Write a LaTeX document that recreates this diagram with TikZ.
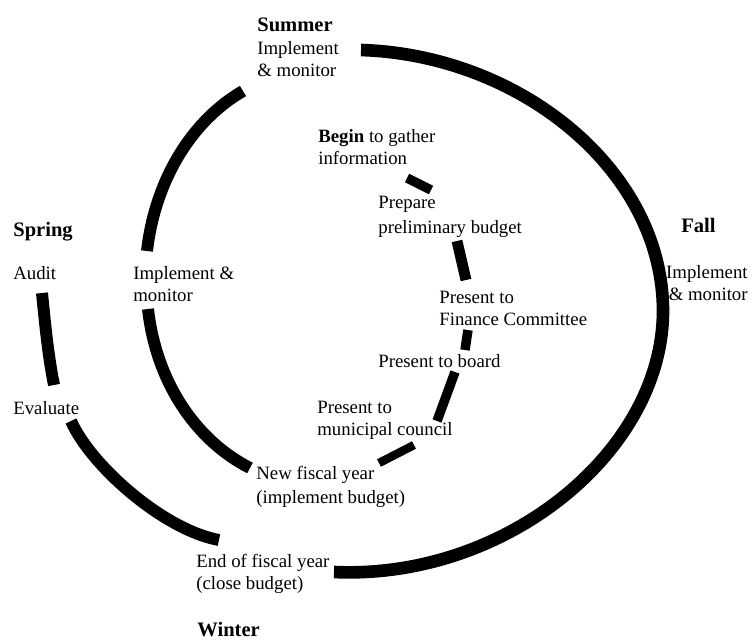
\documentclass[tikz,border=0pt]{standalone}
\usepackage{fontspec}
\setmainfont{Liberation Serif}
\usepackage{tikz}

\begin{document}
\begin{tikzpicture}[x=0.02cm, y=-0.02cm, season/.style={inner sep=0, anchor=base west, font=\fontsize{11.7}{13}\selectfont\bfseries}, stage/.style={inner sep=0, anchor=base west, align=left}, band/.style={line width=6.8pt}, stub/.style={line width=5.4pt}]

\tikzstyle{every node}=[font=\fontsize{10.7}{12.5}\selectfont]

\useasboundingbox (0,0) rectangle (752,640);

%Nodes (base of the last line)
\node[season]   (summer)   at (257,31)  {Summer};
\node[stage]    (sumwork)  at (257,76)  {Implement\\\& monitor};
\node[stage]    (gather)   at (318,164) {\textbf{Begin} to gather\\information};
\node[stage]    (prepare)  at (378,233) {Prepare\\[1.7pt]preliminary budget};
\node[stage]    (finance)  at (439,325) {Present to\\Finance Committee};
\node[stage]    (board)    at (378,367) {Present to board};
\node[stage]    (council)  at (317,435) {Present to\\municipal council};
\node[stage]    (newyear)  at (256,503) {New fiscal year\\[1pt](implement budget)};
\node[stage]    (endyear)  at (196,589) {End of fiscal year\\(close budget)};
\node[season]   (winter)   at (197,636) {Winter};
\node[season]   (spring)   at (13,236)  {Spring};
\node[stage]    (audit)    at (13,279)  {Audit};
\node[stage]    (sprwork)  at (133,301) {Implement \&\\monitor};
\node[stage]    (evaluate) at (13,414)  {Evaluate};
\node[season]   (fall)     at (681,232) {Fall};
\node[stage, anchor=base east, align=right] (fallwork) at (748,300) {Implement\\\& monitor};

% end points of the strokes
\coordinate (o1) at (361,50);   % outer loop, right half
\coordinate (o2) at (663,311);
\coordinate (o3) at (334,572);
\coordinate (a1) at (42,293);   % Audit -> Evaluate
\coordinate (a2) at (54,385);
\coordinate (e1) at (71,421);   % Evaluate -> End of fiscal year
\coordinate (e2) at (219,540);
\coordinate (i1) at (243,91);   % inner loop, left half
\coordinate (i2) at (147,251);
\coordinate (i3) at (148,309);
\coordinate (i4) at (250,468);
\coordinate (p1) at (407,178);  % inner loop, right half
\coordinate (p2) at (431,190);
\coordinate (q1) at (457,241);
\coordinate (q2) at (466,280);
\coordinate (r1) at (468,330);
\coordinate (r2) at (465,350);
\coordinate (t1) at (455,372);
\coordinate (t2) at (437,421);
\coordinate (u1) at (414,445);
\coordinate (u2) at (379,463);

%Lines
\draw[band, line width=7.2pt] (o1) .. controls +(160,5) and +(0,-140) .. (o2) .. controls +(0,140) and +(172,8) .. (o3);
\draw[band] (a1) .. controls +(3,30) and +(-6,-30) .. (a2);
\draw[band] (e1) .. controls +(20,45) and +(-55,-10) .. (e2);
\draw[band] (i1) .. controls +(-52,30) and +(8,-70) .. (i2);
\draw[band] (i3) .. controls +(8,72) and +(-55,-28) .. (i4);
\draw[stub] (p1) -- (p2);
\draw[stub, line width=6.2pt] (q1) -- (q2);
\draw[stub] (r1) -- (r2);
\draw[stub] (t1) -- (t2);
\draw[stub, line width=4.8pt] (u1) -- (u2);

\end{tikzpicture}
\end{document}
